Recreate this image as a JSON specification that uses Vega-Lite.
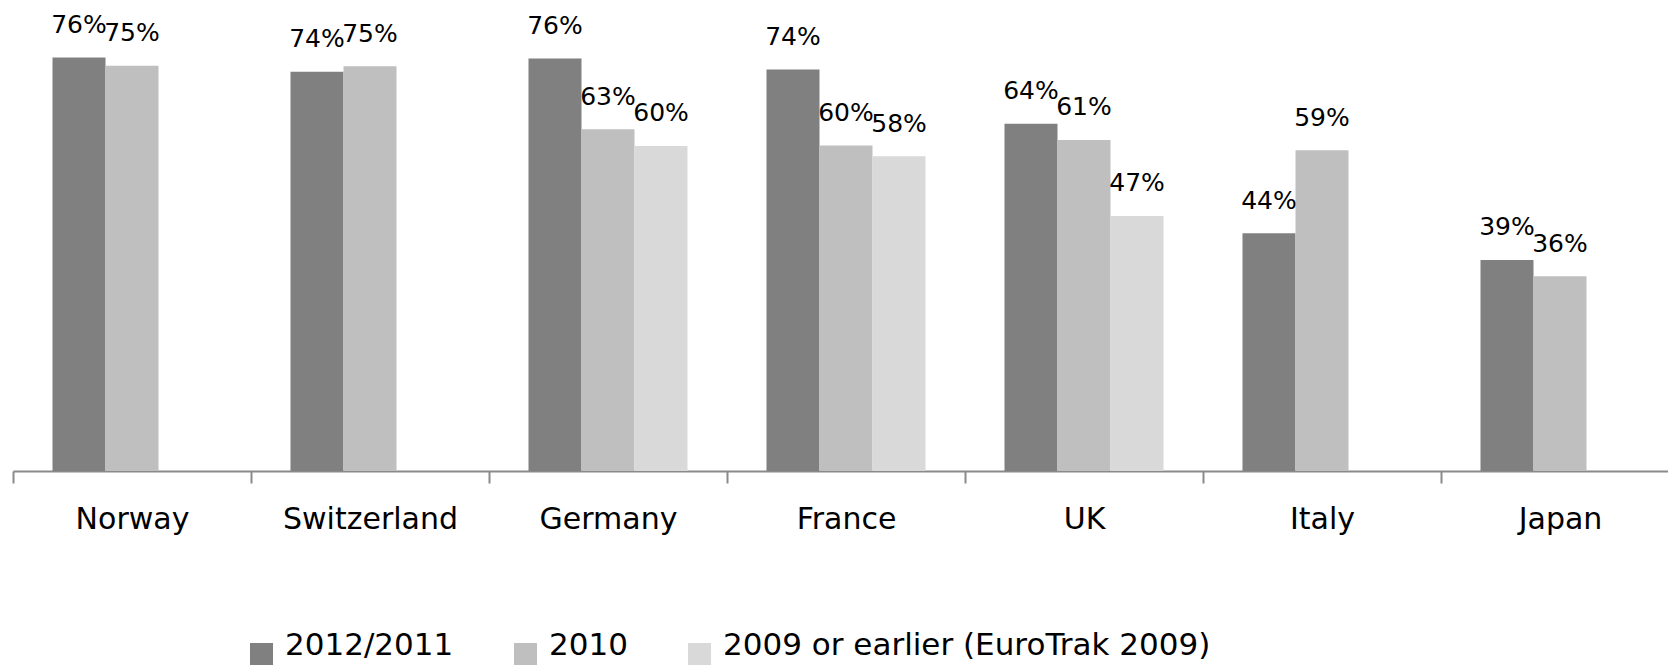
{
  "$schema": "https://vega.github.io/schema/vega-lite/v6.json",
  "width": 1666,
  "height": 471,
  "autosize": {"type": "none"},
  "padding": {"left": 13, "top": 0, "right": 0, "bottom": 194},
  "background": "white",
  "config": {"view": {"stroke": null}},
  "data": {
    "values": [
      {"country": "Norway", "period": "2012/2011", "value": 0.762},
      {"country": "Norway", "period": "2010", "value": 0.747},
      {"country": "Switzerland", "period": "2012/2011", "value": 0.736},
      {"country": "Switzerland", "period": "2010", "value": 0.746},
      {"country": "Germany", "period": "2012/2011", "value": 0.760},
      {"country": "Germany", "period": "2010", "value": 0.630},
      {"country": "Germany", "period": "2009 or earlier (EuroTrak 2009)", "value": 0.599},
      {"country": "France", "period": "2012/2011", "value": 0.740},
      {"country": "France", "period": "2010", "value": 0.600},
      {"country": "France", "period": "2009 or earlier (EuroTrak 2009)", "value": 0.580},
      {"country": "UK", "period": "2012/2011", "value": 0.640},
      {"country": "UK", "period": "2010", "value": 0.610},
      {"country": "UK", "period": "2009 or earlier (EuroTrak 2009)", "value": 0.470},
      {"country": "Italy", "period": "2012/2011", "value": 0.438},
      {"country": "Italy", "period": "2010", "value": 0.591},
      {"country": "Japan", "period": "2012/2011", "value": 0.389},
      {"country": "Japan", "period": "2010", "value": 0.359}
    ]
  },
  "encoding": {
    "x": {
      "field": "country",
      "type": "nominal",
      "scale": {"domain": ["Norway", "Switzerland", "Germany", "France", "UK", "Italy", "Japan"], "paddingInner": 0, "paddingOuter": 0},
      "axis": {
        "title": null,
        "labelAngle": 0,
        "labelFont": "DejaVu Sans",
        "labelFontSize": 30,
        "labelColor": "#000000",
        "labelPadding": 21,
        "tickBand": "extent",
        "tickSize": 12,
        "tickWidth": 2,
        "tickColor": "#8a8a8a",
        "domainColor": "#8a8a8a",
        "domainWidth": 2,
        "grid": false
      }
    },
    "xOffset": {
      "field": "period",
      "type": "nominal",
      "scale": {"domain": ["2012/2011", "2010", "2009 or earlier (EuroTrak 2009)"], "paddingInner": 0, "paddingOuter": 0.745}
    },
    "y": {
      "field": "value",
      "type": "quantitative",
      "scale": {"domain": [0, 0.868], "nice": false},
      "axis": null
    }
  },
  "layer": [
    {
      "mark": {"type": "bar", "strokeWidth": 0},
      "encoding": {
        "color": {
          "field": "period",
          "type": "nominal",
          "scale": {"domain": ["2012/2011", "2010", "2009 or earlier (EuroTrak 2009)"], "range": ["#808080", "#bfbfbf", "#d9d9d9"]},
          "legend": {
            "title": null,
            "orient": "none",
            "direction": "horizontal",
            "legendX": 233,
            "legendY": 639,
            "symbolType": "square",
            "symbolSize": 529,
            "symbolStrokeWidth": 0,
            "labelFont": "DejaVu Sans",
            "labelFontSize": 31,
            "labelColor": "#000000",
            "labelOffset": 8,
            "labelBaseline": "alphabetic",
            "columnPadding": 56,
            "labelLimit": 1000
          }
        }
      }
    },
    {
      "mark": {"type": "text", "baseline": "alphabetic", "dy": -24.5, "font": "DejaVu Sans", "fontSize": 25, "color": "#000000"},
      "encoding": {
        "text": {"field": "value", "type": "quantitative", "format": ".0%"}
      }
    }
  ]
}
